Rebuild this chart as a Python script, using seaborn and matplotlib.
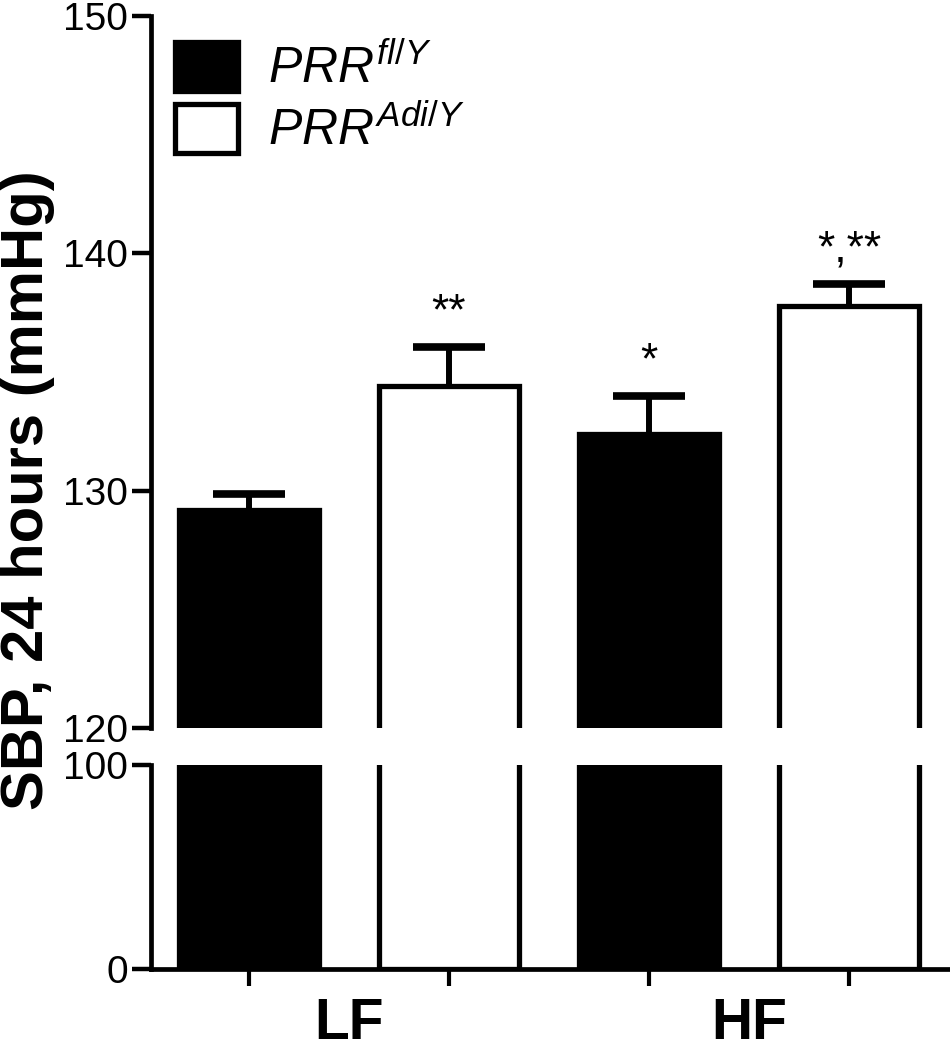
import pandas as pd
import matplotlib.pyplot as plt
import seaborn as sns

# data
diets = ["LF", "LF", "HF", "HF"]
genotypes = ["fl", "adi", "fl", "adi"]
sbp_mean = [129.2, 134.4, 132.4, 137.8]
sbp_sem = [0.65, 1.65, 1.6, 0.9]
significance = ["", "**", "*", "*,**"]

diet_order = ["LF", "HF"]
geno_order = ["fl", "adi"]
geno_labels = [r"$\mathit{PRR}^{\mathit{fl/Y}}$", r"$\mathit{PRR}^{\mathit{Adi/Y}}$"]
geno_colors = {"fl": "black", "adi": "white"}

df = pd.DataFrame({"diet": diets, "genotype": genotypes,
                   "sbp": sbp_mean, "err": sbp_sem, "sig": significance})

sns.set_style("ticks")
plt.rcParams["font.family"] = ["Liberation Sans", "DejaVu Sans"]
plt.rcParams["mathtext.fontset"] = "custom"
plt.rcParams["mathtext.rm"] = "Liberation Sans"
plt.rcParams["mathtext.it"] = "Liberation Sans:italic"
plt.rcParams["text.color"] = "black"
plt.rcParams["axes.edgecolor"] = "black"
plt.rcParams["xtick.color"] = "black"
plt.rcParams["ytick.color"] = "black"

fig = plt.figure(figsize=(9.5, 10.5), dpi=100)
left, width = 151 / 950, 1 - 151 / 950
ax_top = fig.add_axes([left, 1 - 728 / 1050, width, (728 - 16) / 1050])
ax_bot = fig.add_axes([left, 1 - 969 / 1050, width, (969 - 765) / 1050])

lw = 3.8
for ax in (ax_top, ax_bot):
    sns.barplot(data=df, x="diet", y="sbp", hue="genotype", order=diet_order,
                hue_order=geno_order, palette=geno_colors, edgecolor="black",
                linewidth=lw, width=1.0, gap=0.3, errorbar=None, legend=False, ax=ax)
    ax.set_xlim(-0.495, 1.5025)
    ax.set_xlabel("")
    ax.set_ylabel("")
    for s in ("top", "right"):
        ax.spines[s].set_visible(False)
    for s in ("left", "bottom"):
        ax.spines[s].set_linewidth(3.4)
    ax.tick_params(axis="y", which="major", direction="out", length=13.5, width=3.2,
                   labelsize=28, pad=3, labelcolor="black")

# error bars (upper only) and significance marks
centers = []
for cont, g in zip(ax_top.containers, geno_order):
    sub = df[df.genotype == g].set_index("diet").loc[diet_order]
    for patch, (_, row) in zip(cont.patches, sub.iterrows()):
        xc = patch.get_x() + patch.get_width() / 2
        half = patch.get_width() * 0.26
        centers.append(xc)
        top = row["sbp"] + row["err"]
        ax_top.vlines(xc, row["sbp"], top, color="black", lw=4.3, zorder=3)
        ax_top.hlines(top, xc - half, xc + half, color="black", lw=5.5, zorder=3)
        if row["sig"]:
            ax_top.annotate(row["sig"], xy=(xc, top), xytext=(0, 10), textcoords="offset points",
                            ha="center", va="bottom", fontsize=32)

# top segment
ax_top.set_ylim(120, 150)
ax_top.set_yticks([120, 130, 140, 150])
ax_top.spines["bottom"].set_visible(False)
ax_top.tick_params(axis="x", which="both", bottom=False, labelbottom=False)
ax_top.set_yticks([120], minor=True)
ax_top.tick_params(axis="y", which="minor", direction="in", length=7, width=3.2)

# bottom segment
ax_bot.set_ylim(0, 100)
ax_bot.set_yticks([0, 100])
ax_bot.set_yticks([100], minor=True)
ax_bot.tick_params(axis="y", which="minor", direction="in", length=7, width=3.2)
ax_bot.set_xticks(range(len(diet_order)))
ax_bot.set_xticklabels(diet_order, fontsize=41, fontweight="bold")
ax_bot.set_xticks(sorted(centers), minor=True)
ax_bot.tick_params(axis="x", which="major", length=0, pad=20)
ax_bot.tick_params(axis="x", which="minor", direction="out", length=12, width=3)

fig.text(28 / 950, 0.533, "SBP, 24 hours (mmHg)", rotation=90, ha="center", va="center",
         fontsize=43, fontweight="bold")

handles = [plt.Rectangle((0, 0), 1, 1, facecolor=geno_colors[g], edgecolor="black", lw=lw)
           for g in geno_order]
ax_top.legend(handles, geno_labels, loc="upper left", bbox_to_anchor=(175 / 950, 0.960),
              bbox_transform=fig.transFigure, frameon=False, fontsize=36, borderpad=0,
              borderaxespad=0, handlelength=1.25, handleheight=1.12, handletextpad=0.6,
              labelspacing=0.22)

fig.savefig("out.png", dpi=100)
